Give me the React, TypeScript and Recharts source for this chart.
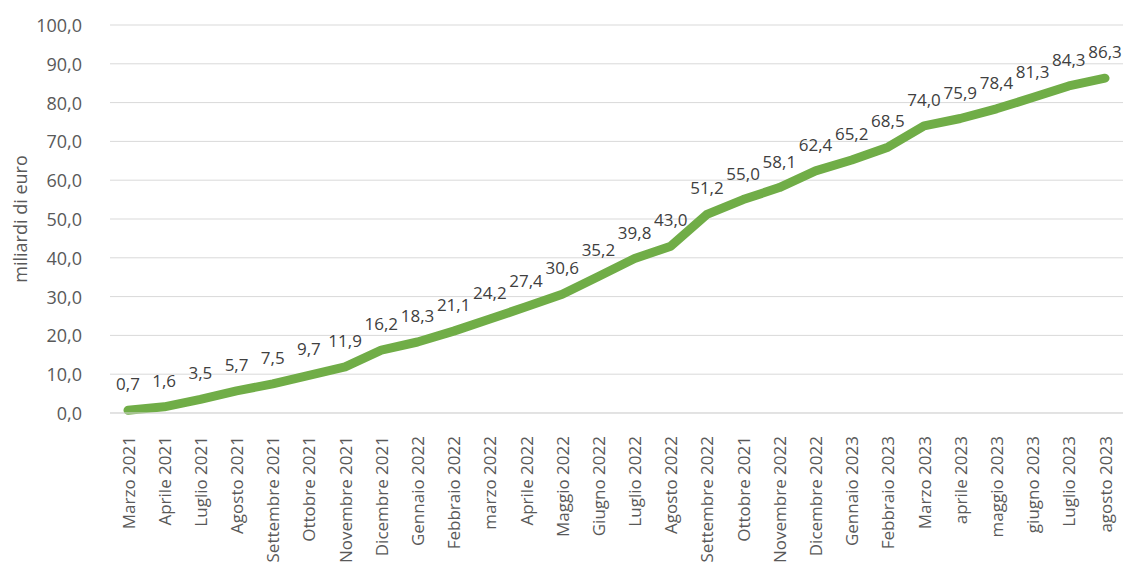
import { LineChart, Line, XAxis, YAxis, CartesianGrid, LabelList } from 'recharts';

const MONTHS = [
  'Marzo 2021', 'Aprile 2021', 'Luglio 2021', 'Agosto 2021', 'Settembre 2021', 'Ottobre 2021',
  'Novembre 2021', 'Dicembre 2021', 'Gennaio 2022', 'Febbraio 2022', 'marzo 2022', 'Aprile 2022',
  'Maggio 2022', 'Giugno 2022', 'Luglio 2022', 'Agosto 2022', 'Settembre 2022', 'Ottobre 2021',
  'Novembre 2022', 'Dicembre 2022', 'Gennaio 2023', 'Febbraio 2023', 'Marzo 2023', 'aprile 2023',
  'maggio 2023', 'giugno 2023', 'Luglio 2023', 'agosto 2023',
];

const VALUES = [
  0.7, 1.6, 3.5, 5.7, 7.5, 9.7, 11.9, 16.2, 18.3, 21.1, 24.2, 27.4, 30.6, 35.2,
  39.8, 43.0, 51.2, 55.0, 58.1, 62.4, 65.2, 68.5, 74.0, 75.9, 78.4, 81.3, 84.3, 86.3,
];

const Y_TICKS = [0, 10, 20, 30, 40, 50, 60, 70, 80, 90, 100];

const data = MONTHS.map((m, i) => ({ month: m, value: VALUES[i] }));

const fmt = (v: number) => v.toFixed(1).replace('.', ',');

const FONT = '"Open Sans", sans-serif';

function XTick({ x, y, payload }: any) {
  return (
    <g transform={`translate(${x},${y})`}>
      <text
        transform="rotate(-90)"
        x={-15}
        y={0}
        textAnchor="end"
        dominantBaseline="central"
        fill="#595959"
        fontSize={17}
        fontFamily={FONT}
      >
        {payload.value}
      </text>
    </g>
  );
}

function YTick({ x, y, payload }: any) {
  return (
    <text
      x={x - 20}
      y={y}
      textAnchor="end"
      dominantBaseline="central"
      fill="#595959"
      fontSize={18}
      fontFamily={FONT}
    >
      {fmt(payload.value)}
    </text>
  );
}

function YLabel({ viewBox }: any) {
  const cx = 20;
  const cy = viewBox.y + viewBox.height / 2;
  return (
    <text
      x={cx}
      y={cy}
      transform={`rotate(-90, ${cx}, ${cy})`}
      textAnchor="middle"
      dominantBaseline="central"
      fill="#595959"
      fontSize={18}
      fontFamily={FONT}
    >
      miliardi di euro
    </text>
  );
}

export default function App() {
  return (
    <div style={{ position: 'absolute', left: 0, top: 0, background: '#fff' }}>
      <LineChart width={1123} height={572} data={data} margin={{ top: 25, right: 0, bottom: 0, left: 0 }}>
        <CartesianGrid stroke="#d9d9d9" vertical={false} />
        <XAxis
          dataKey="month"
          interval={0}
          height={159}
          padding={{ left: 18, right: 18 }}
          axisLine={{ stroke: '#d9d9d9' }}
          tickLine={false}
          tick={<XTick />}
        />
        <YAxis
          domain={[0, 100]}
          ticks={Y_TICKS}
          width={110}
          axisLine={false}
          tickLine={false}
          tick={<YTick />}
          label={<YLabel />}
        />
        <Line
          type="linear"
          dataKey="value"
          stroke="#70AD47"
          strokeWidth={9}
          strokeLinecap="round"
          strokeLinejoin="round"
          dot={false}
          activeDot={false}
          isAnimationActive={false}
        >
          <LabelList
            dataKey="value"
            position="top"
            offset={20}
            formatter={(v: any) => fmt(Number(v))}
            fill="#404040"
            fontSize={17}
            fontFamily={FONT}
          />
        </Line>
      </LineChart>
    </div>
  );
}
